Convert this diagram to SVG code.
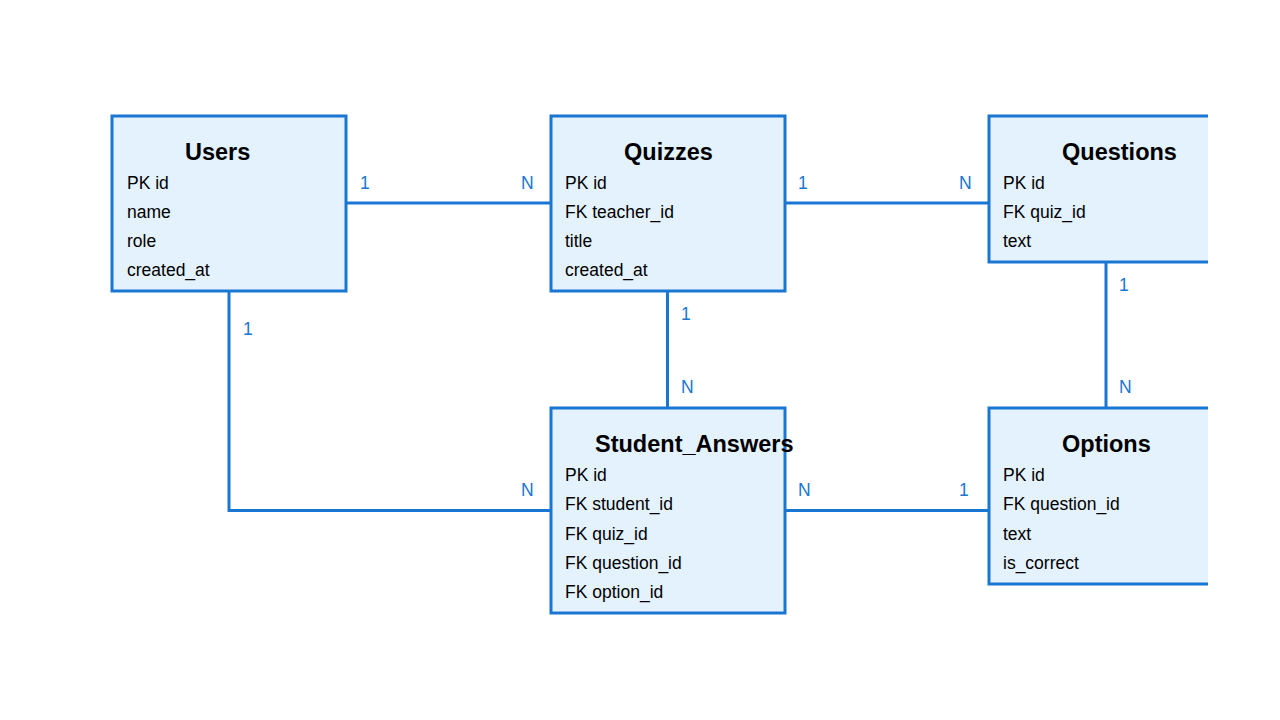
<svg xmlns="http://www.w3.org/2000/svg" width="1280" height="720" viewBox="0 0 1280 720">
<style>
.box{fill:#e3f2fd;stroke:#1976d2;stroke-width:3}
.title{font-family:"Liberation Sans",Arial,sans-serif;font-weight:bold;font-size:23.5px;fill:#000}
.f{font-family:"Liberation Sans",Arial,sans-serif;font-size:17.5px;fill:#000}
.lbl{font-family:"Liberation Sans",Arial,sans-serif;font-size:17.5px;fill:#1976d2}
.c{fill:none;stroke:#1976d2;stroke-width:3}
</style>
<defs><clipPath id="clip"><rect x="0" y="0" width="1208" height="720"/></clipPath></defs>
<rect width="1280" height="720" fill="#fff"/>
<g clip-path="url(#clip)">
<g id="connectors">
<path class="c" d="M346 203H551"/>
<path class="c" d="M785 203H989"/>
<path class="c" d="M667.5 291V408"/>
<path class="c" d="M1106 262V408"/>
<path class="c" d="M229 291V510.5H551"/>
<path class="c" d="M785 510.5H989"/>
<text class="lbl" x="360" y="189">1</text>
<text class="lbl" x="521" y="189">N</text>
<text class="lbl" x="798" y="189">1</text>
<text class="lbl" x="959" y="189">N</text>
<text class="lbl" x="243" y="335">1</text>
<text class="lbl" x="681" y="320">1</text>
<text class="lbl" x="681" y="393">N</text>
<text class="lbl" x="1119" y="291">1</text>
<text class="lbl" x="1119" y="393">N</text>
<text class="lbl" x="521" y="496">N</text>
<text class="lbl" x="798" y="496">N</text>
<text class="lbl" x="959" y="496">1</text>
</g>
<g id="users">
<rect class="box" x="112" y="116" width="234" height="175"/>
<text class="title" x="185" y="160">Users</text>
<text class="f" x="127" y="189">PK id</text>
<text class="f" x="127" y="218">name</text>
<text class="f" x="127" y="247">role</text>
<text class="f" x="127" y="276">created_at</text>
</g>
<g id="quizzes">
<rect class="box" x="551" y="116" width="234" height="175"/>
<text class="title" x="624" y="160">Quizzes</text>
<text class="f" x="565" y="189">PK id</text>
<text class="f" x="565" y="218">FK teacher_id</text>
<text class="f" x="565" y="247">title</text>
<text class="f" x="565" y="276">created_at</text>
</g>
<g id="questions">
<rect class="box" x="989" y="116" width="234" height="146"/>
<text class="title" x="1062" y="160">Questions</text>
<text class="f" x="1003" y="189">PK id</text>
<text class="f" x="1003" y="218">FK quiz_id</text>
<text class="f" x="1003" y="247">text</text>
</g>
<g id="student_answers">
<rect class="box" x="551" y="408" width="234" height="205"/>
<text class="title" x="595" y="452">Student_Answers</text>
<text class="f" x="565" y="481">PK id</text>
<text class="f" x="565" y="510">FK student_id</text>
<text class="f" x="565" y="540">FK quiz_id</text>
<text class="f" x="565" y="569">FK question_id</text>
<text class="f" x="565" y="598">FK option_id</text>
</g>
<g id="options">
<rect class="box" x="989" y="408" width="234" height="176"/>
<text class="title" x="1062" y="452">Options</text>
<text class="f" x="1003" y="481">PK id</text>
<text class="f" x="1003" y="510">FK question_id</text>
<text class="f" x="1003" y="540">text</text>
<text class="f" x="1003" y="569">is_correct</text>
</g>
</g>
</svg>
